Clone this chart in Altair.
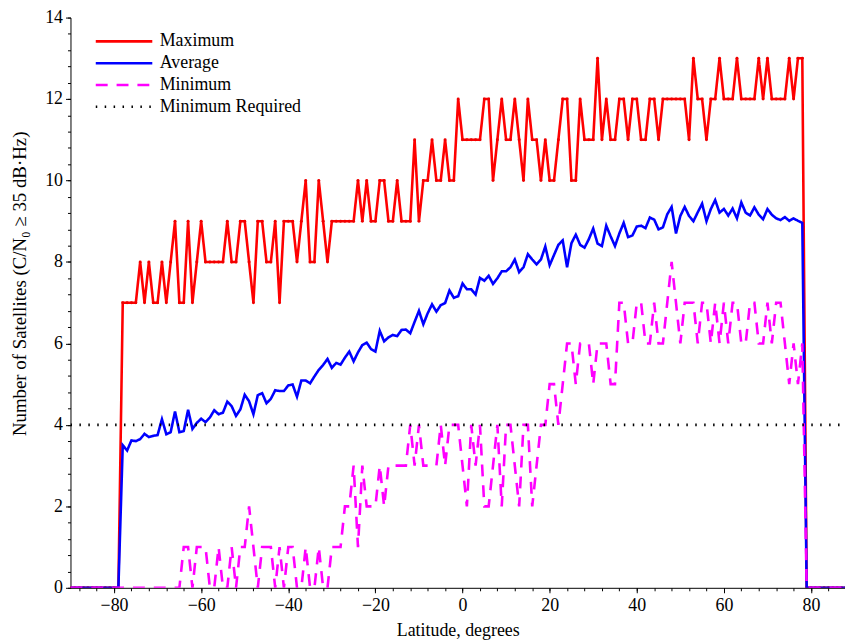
import altair as alt
import pandas as pd

# Latitude grid (degrees)
lat = list(range(-90, 91))

# Maximum number of satellites, -90 .. 90
maximum = [0] * 12 + [
    7, 7, 7, 7, 8, 7, 8, 7, 7, 8, 7, 8, 9, 7, 7, 9, 7, 8, 9, 8,
    8, 8, 8, 8, 9, 8, 8, 9, 9, 8, 7, 9, 9, 8, 8, 9, 7, 9,
    9, 9, 8, 9, 10, 8, 8, 10, 9, 8, 9, 9, 9, 9, 9, 9, 10, 9, 10, 9,
    9, 10, 10, 9, 9, 10, 9, 9, 9, 11, 9, 10, 10, 11, 10, 10, 11, 10, 10, 12,
    11, 11, 11, 11, 11, 12, 12, 10, 11, 12, 11, 11, 12, 11, 10, 12, 11, 11, 10, 11,
    10, 10, 11, 12, 12, 10, 10, 12, 11, 11, 11, 13, 11, 12, 11, 11, 12, 12, 11,
    12, 12, 11, 11, 12, 12, 11, 12, 12, 12, 12, 12, 12, 11, 13, 12, 12, 11, 12, 12,
    13, 12, 12, 12, 13, 12, 12, 12, 12, 13, 12, 13, 12, 12, 12, 12, 13, 12, 13, 13,
] + [0] * 12

# Average number of satellites, -90 .. 90
average = [0] * 12 + [
    3.50, 3.37, 3.62, 3.60, 3.65, 3.78, 3.70, 3.73, 3.75, 4.14,
    3.77, 3.82, 4.33, 3.82, 3.85, 4.37, 3.90, 4.05, 4.15, 4.07,
    4.18, 4.36, 4.26, 4.30, 4.57, 4.46, 4.22, 4.38, 4.74, 4.58,
    4.26, 4.73, 4.78, 4.53, 4.64, 4.85, 4.83, 4.83,
    4.97, 4.99, 4.69, 5.09, 5.09, 5.02, 5.19, 5.35, 5.47, 5.62,
    5.40, 5.52, 5.48, 5.65, 5.80, 5.56, 5.78, 5.96, 6.02, 5.86,
    5.80, 6.31, 6.05, 6.15, 6.21, 6.18, 6.33, 6.34, 6.25, 6.53,
    6.80, 6.47, 6.74, 6.96, 6.78, 6.94, 6.99, 7.30, 7.12, 7.16,
    7.47, 7.33, 7.33, 7.20, 7.61, 7.54, 7.66, 7.46, 7.60, 7.77,
    7.77, 7.87, 8.06, 7.75, 7.87, 8.19, 8.06, 7.94, 8.06, 8.38,
    7.92, 8.17, 8.42, 8.53, 7.87, 8.46, 8.67, 8.42, 8.35, 8.56,
    8.82, 8.45, 8.39, 8.89, 8.63, 8.39, 8.70, 8.96, 8.61,
    8.65, 8.87, 8.89, 8.83, 9.09, 9.04, 8.80, 8.85, 9.17, 9.35,
    8.70, 9.13, 9.35, 9.13, 9.00, 9.22, 9.43, 9.00, 9.30, 9.52,
    9.21, 9.30, 9.14, 9.31, 9.07, 9.46, 9.21, 9.14, 9.34, 9.16,
    9.05, 9.30, 9.16, 9.07, 9.03, 9.10, 9.01, 9.07, 9.01, 8.96,
] + [0] * 12

# Minimum number of satellites, -90 .. 90
minimum = [0] * 26 + [
    1, 1, 0, 1, 1, 1, 0, 0, 1, 0, 0, 1, 0, 1, 1, 2, 1, 0, 1, 1,
    1, 0, 1, 0, 1, 1, 0, 0, 1, 0, 0, 1, 0, 0,
    1, 1, 1, 2, 2, 3, 1, 3, 2, 2, 2, 3, 2, 3, 3, 3, 3, 3, 4, 3,
    4, 3, 3, 3, 3, 4, 3, 4, 4, 4,
    3, 2, 4, 3, 4, 2, 2, 3, 4, 2, 4, 4, 3, 2, 4, 4, 2, 3, 4, 4,
    5, 5, 4, 5, 6, 6, 5, 6, 6, 6, 5, 6, 6, 6, 5, 5, 7, 7, 6, 6,
    7, 7, 6, 6, 7, 6, 6, 7, 8, 7, 6, 7, 7, 7, 6, 7, 7, 6, 7, 6,
    7, 6, 7, 7, 6, 6, 7, 7, 6, 6, 7, 6, 7, 7, 6, 5, 6, 5, 6,
] + [0] * 12

# Minimum required level
req_lat = [-90, 90]
req_val = [4, 4]

x_ticks = [-80, -60, -40, -20, 0, 20, 40, 60, 80]
x_minor = list(range(-88, 89, 4))
y_ticks = [0, 2, 4, 6, 8, 10, 12, 14]
y_minor = [round(0.4 * i, 1) for i in range(0, 36)]

series_names = ["Maximum", "Average", "Minimum", "Minimum Required"]
series_colors = ["#ff0000", "#0000ff", "#ff00ff", "#000000"]
series_dashes = [[1, 0], [1, 0], [12, 9], [1.5, 7.5]]
series_widths = [2.6, 2.6, 2.6, 1.8]

rows = []
for la, v in zip(lat, maximum):
    rows.append({"lat": la, "value": v, "series": "Maximum"})
for la, v in zip(lat, average):
    rows.append({"lat": la, "value": v, "series": "Average"})
for la, v in zip(lat, minimum):
    rows.append({"lat": la, "value": v, "series": "Minimum"})
for la, v in zip(req_lat, req_val):
    rows.append({"lat": la, "value": v, "series": "Minimum Required"})
df = pd.DataFrame(rows)

FONT = "Liberation Serif, Times New Roman, Times, serif"
FS = 18

x_scale = alt.Scale(domain=[-90, 87.8], nice=False, zero=False)
y_scale = alt.Scale(domain=[0, 14], nice=False, zero=False)

legend_cfg = dict(
    title=None, orient="none", legendX=24, legendY=13,
    symbolType="M-3,0H3", symbolSize=361, symbolStrokeWidth=2.6,
    symbolOffset=19,
    labelFont=FONT, labelFontSize=FS, labelColor="black",
    labelOffset=25, rowPadding=2, padding=0,
)
color_enc = alt.Color(
    "series:N",
    scale=alt.Scale(domain=series_names, range=series_colors),
    legend=alt.Legend(**legend_cfg),
)
dash_enc = alt.StrokeDash(
    "series:N",
    scale=alt.Scale(domain=series_names, range=series_dashes),
    legend=alt.Legend(**legend_cfg),
)
width_enc = alt.StrokeWidth(
    "series:N",
    scale=alt.Scale(domain=series_names, range=series_widths),
    legend=None,
)

major_x = alt.Axis(
    values=x_ticks, title="Latitude, degrees", orient="bottom",
    labelFont=FONT, labelFontSize=FS, labelColor="black",
    titleFont=FONT, titleFontSize=FS, titleFontWeight="normal", titleColor="black",
    tickSize=5, tickColor="black", domainColor="black", domainWidth=1,
    labelPadding=4, titlePadding=7, grid=False,
)
major_y = alt.Axis(
    values=y_ticks, title="Number of Satellites (C/N₀ ≥ 35 dB·Hz)", orient="left",
    labelFont=FONT, labelFontSize=FS, labelColor="black",
    titleFont=FONT, titleFontSize=19, titleFontWeight="normal", titleColor="black",
    tickSize=5, tickColor="black", domainColor="black", domainWidth=1,
    labelPadding=3, titlePadding=15, titleY=268, grid=False,
)
minor_x = alt.Axis(
    values=x_minor, orient="bottom", labels=False, title=None,
    tickSize=3, tickColor="black", domain=False, grid=False,
)
minor_y = alt.Axis(
    values=y_minor, orient="left", labels=False, title=None,
    tickSize=3, tickColor="black", domain=False, grid=False,
)


def line_layer(name, x_axis, y_axis):
    return alt.Chart(df).transform_filter(
        alt.datum.series == name
    ).mark_line(clip=True, strokeJoin="miter", strokeCap="butt").encode(
        x=alt.X("lat:Q", scale=x_scale, axis=x_axis),
        y=alt.Y("value:Q", scale=y_scale, axis=y_axis),
        color=color_enc,
        strokeDash=dash_enc,
        strokeWidth=width_enc,
    )


max_line = line_layer("Maximum", major_x, major_y)
max_pts = alt.Chart(df).transform_filter(
    alt.datum.series == "Maximum"
).mark_point(filled=True, size=9, color="#ee0000", opacity=1, clip=True).encode(
    x=alt.X("lat:Q", scale=x_scale, axis=minor_x),
    y=alt.Y("value:Q", scale=y_scale, axis=minor_y),
)
avg_line = line_layer("Average", None, None)
min_line = line_layer("Minimum", None, None)
req_line = line_layer("Minimum Required", None, None)

chart = alt.layer(max_line, max_pts, avg_line, min_line, req_line).resolve_axis(
    x="independent", y="independent"
).properties(
    width=781,
    height=575,
    autosize=alt.AutoSizeParams(type="none"),
    padding={"left": 63, "top": 7, "right": 0, "bottom": 52},
    background="white",
).configure_view(stroke=None)

chart.save("out.html", embed_options={"renderer": "svg", "actions": False})
